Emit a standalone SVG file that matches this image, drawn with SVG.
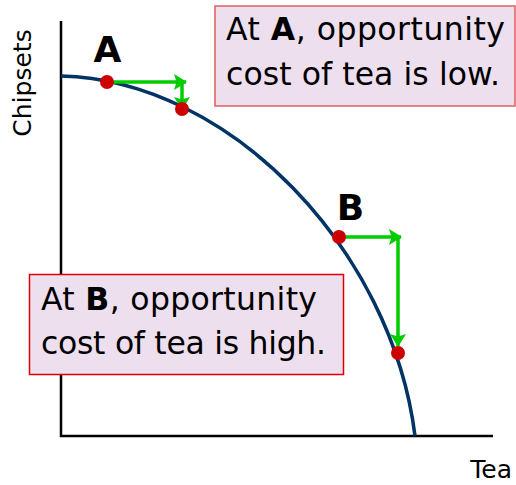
<svg xmlns="http://www.w3.org/2000/svg" width="516" height="485" viewBox="0 0 516 485">
<style>
.axis{stroke:#000;stroke-width:2.5;fill:none}
.curve{stroke:#003366;stroke-width:3.5;fill:none}
.arr{stroke:#00cc00;stroke-width:3.5;fill:none}
.dot{fill:#cc0000}
.lbl{font-family:"DejaVu Sans",sans-serif;font-size:25px;fill:#000}
.big{font-family:"DejaVu Sans",sans-serif;font-weight:bold;font-size:36px;fill:#000}
.note{font-family:"DejaVu Sans",sans-serif;font-size:31.5px;fill:#000}
.box{fill:#eedfef}
</style>
<defs>
<marker id="ah" markerWidth="13" markerHeight="18" refX="12" refY="9" orient="auto" markerUnits="userSpaceOnUse">
<path d="M0,1 L13,9 L0,17 L2.5,9 Z" fill="#00cc00"/>
</marker>
</defs>
<g id="axes">
<line class="axis" x1="61" y1="21" x2="61" y2="437"/>
<line class="axis" x1="60" y1="436" x2="493" y2="436"/>
<text class="lbl" x="512" y="478" text-anchor="end">Tea</text>
<text class="lbl" transform="translate(31,83) rotate(-90)" text-anchor="middle" font-size="26">Chipsets</text>
</g>
<g id="curve">
<path class="curve" d="M61,76 C230,80 392,250 415,436"/>
</g>
<g id="connectors">
<path class="arr" d="M107,82 H186" marker-end="url(#ah)"/>
<path class="arr" d="M182,82 V109" marker-end="url(#ah)"/>
<path class="arr" d="M339,237 H401" marker-end="url(#ah)"/>
<path class="arr" d="M398,237 V346" marker-end="url(#ah)"/>
</g>
<g id="pointA">
<circle class="dot" cx="107" cy="82" r="7"/>
<text class="big" x="107.5" y="62" text-anchor="middle">A</text>
</g>
<g id="pointA2"><circle class="dot" cx="182" cy="109" r="7"/></g>
<g id="pointB">
<circle class="dot" cx="339" cy="237" r="7"/>
<text class="big" x="350.5" y="220" text-anchor="middle">B</text>
</g>
<g id="pointB2"><circle class="dot" cx="398" cy="353" r="7"/></g>
<g id="noteA">
<rect class="box" x="215" y="6" width="300" height="100" stroke="#dd6060" stroke-width="1.5"/>
<text class="note" x="226" y="40" textLength="279" lengthAdjust="spacing">At <tspan font-weight="bold">A</tspan>, opportunity</text>
<text class="note" x="226" y="85" textLength="274" lengthAdjust="spacing">cost of tea is low.</text>
</g>
<g id="noteB">
<rect class="box" x="29.5" y="274.5" width="314" height="100" stroke="#dd0000" stroke-width="1.5"/>
<text class="note" x="41" y="310" textLength="276" lengthAdjust="spacing">At <tspan font-weight="bold">B</tspan>, opportunity</text>
<text class="note" x="41" y="354" textLength="285" lengthAdjust="spacing">cost of tea is high.</text>
</g>
</svg>
